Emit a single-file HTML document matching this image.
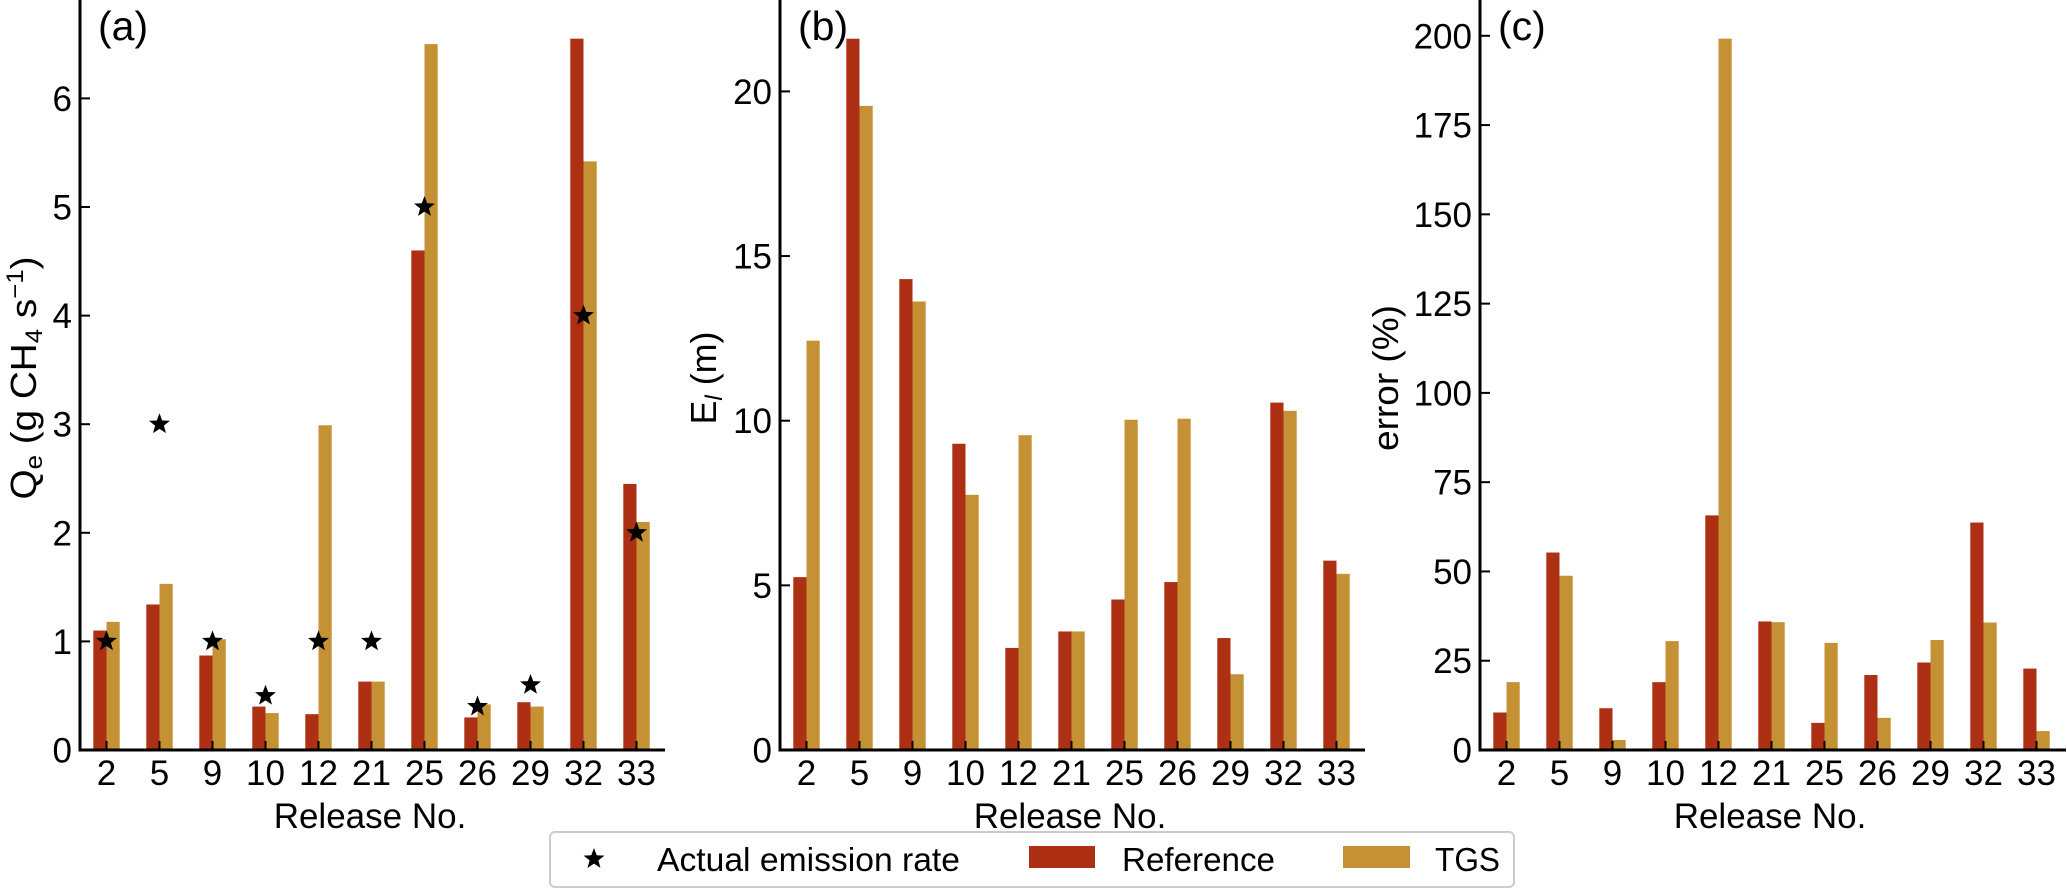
<!DOCTYPE html>
<html><head><meta charset="utf-8"><style>
html,body{margin:0;padding:0;background:#fff;}
svg{display:block;font-family:"Liberation Sans",Arial,sans-serif;}
</style></head><body>
<svg id="fig" width="2067" height="890" viewBox="0 0 2067 890" xmlns="http://www.w3.org/2000/svg"></svg>
<script>
const categories = ["2","5","9","10","12","21","25","26","29","32","33"];
const qeReference = [1.1,1.34,0.87,0.4,0.33,0.63,4.6,0.3,0.44,6.55,2.45];
const qeTGS = [1.18,1.53,1.02,0.34,2.99,0.63,6.5,0.42,0.4,5.42,2.1];
const qeActual = [1,3,1,0.5,1,1,5,0.4,0.6,4,2];
const elReference = [5.25,21.6,14.3,9.3,3.1,3.6,4.57,5.1,3.4,10.55,5.75];
const elTGS = [12.43,19.56,13.62,7.75,9.56,3.6,10.03,10.06,2.3,10.3,5.35];
const errReference = [10.5,55.3,11.7,19,65.7,36,7.6,21,24.5,63.7,22.8];
const errTGS = [19,48.8,2.8,30.5,199.2,35.8,30,9,30.8,35.7,5.3];
const qeTicks = [0,1,2,3,4,5,6];
const elTicks = [0,5,10,15,20];
const errTicks = [0,25,50,75,100,125,150,175,200];

const NS="http://www.w3.org/2000/svg";
const svg=document.getElementById('fig');
const RED="#AD3014", GOLD="#C49234";
function mk(tag,attrs,parent){const e=document.createElementNS(NS,tag);for(const k in attrs)e.setAttribute(k,attrs[k]);(parent||svg).appendChild(e);return e;}
function starPath(cx,cy,r){let d="";for(let i=0;i<10;i++){const rr=i%2?r*0.42:r;const a=-Math.PI/2+i*Math.PI/5;d+=(i?"L":"M")+(cx+rr*Math.cos(a)).toFixed(2)+","+(cy+rr*Math.sin(a)).toFixed(2);}return d+"Z";}

const Y0=750;
function panel(cfg){
  const g=mk('g',{});
  
  
  const ax=cfg.ax, scale=cfg.pxPerUnit;
  const y=v=>Y0-v*scale;
  const xc=i=>ax+26.5+53*i;
  const bw=13.2;
  cfg.ref.forEach((v,i)=>{
    const r=mk('rect',{x:xc(i)-bw,y:y(v),width:bw,height:Y0-y(v),fill:RED},g);
    
    
  });
  cfg.tgs.forEach((v,i)=>{
    const r=mk('rect',{x:xc(i),y:y(v),width:bw,height:Y0-y(v),fill:GOLD},g);
    
    
  });
  if(cfg.stars){cfg.stars.forEach((v,i)=>{
    const s=mk('path',{d:starPath(xc(i),y(v),11),fill:"#000"},g);
    
    
  });}
  const ls=mk('line',{x1:ax,y1:0,x2:ax,y2:Y0+1.5,stroke:"#000","stroke-width":3},g);
  
  
  const bs=mk('line',{x1:ax-1.5,y1:Y0,x2:ax+cfg.spineLen,y2:Y0,stroke:"#000","stroke-width":3},g);
  
  
  cfg.ticks.forEach(t=>{
    mk('line',{x1:ax,y1:y(t),x2:ax+10,y2:y(t),stroke:"#000","stroke-width":2},g);
    const tx=mk('text',{x:ax-8,y:y(t)+12.5,"text-anchor":"end","font-size":35},g);
    tx.textContent=t;
    
    
  });
  categories.forEach((c,i)=>{
    mk('line',{x1:xc(i),y1:Y0,x2:xc(i),y2:Y0-9,stroke:"#000","stroke-width":2},g);
    const tx=mk('text',{x:xc(i),y:785,"text-anchor":"middle","font-size":35},g);
    tx.textContent=c;
    
    
  });
  const xl=mk('text',{x:ax+290,y:828,"text-anchor":"middle","font-size":35},g);
  xl.textContent="Release No.";
  
  
  const pl=mk('text',{x:ax+18,y:40,"font-size":41},g);
  pl.textContent=cfg.label;
  
  
  const yl=mk('text',{x:0,y:0,"text-anchor":"middle","font-size":36,textLength:cfg.ylen,lengthAdjust:"spacingAndGlyphs",transform:`translate(${cfg.ylx},378) rotate(-90)`},g);
  yl.innerHTML=cfg.ytitle;
  
  
}
panel({name:'panel-a-emission-rate',ax:80,pxPerUnit:108.6,ref:qeReference,tgs:qeTGS,stars:qeActual,ticks:qeTicks,spineLen:585,label:"(a)",ylx:36,ylen:243,
  ytitle:'Q<tspan font-size="24" dy="6">e</tspan><tspan dy="-6"> (g CH</tspan><tspan font-size="24" dy="6">4</tspan><tspan dy="-6"> s</tspan><tspan font-size="24" dy="-13">−1</tspan><tspan dy="13">)</tspan>'});
panel({name:'panel-b-el',ax:780,pxPerUnit:32.93,ref:elReference,tgs:elTGS,ticks:elTicks,spineLen:585,label:"(b)",ylx:716,ylen:93,
  ytitle:'E<tspan font-size="24" dy="6" font-style="italic">l</tspan><tspan dy="-6"> (m)</tspan>'});
panel({name:'panel-c-error',ax:1480,pxPerUnit:3.571,ref:errReference,tgs:errTGS,ticks:errTicks,spineLen:586,label:"(c)",ylx:1398,ylen:146,
  ytitle:'error (%)'});

const lg=mk('g',{});


mk('rect',{x:550,y:832,width:964,height:55,rx:5,fill:"#fff",stroke:"#ccc","stroke-width":2},lg);
const e1=mk('path',{d:starPath(594,859,11),fill:"#000"},lg);


const t1=mk('text',{x:657,y:871,"font-size":33,textLength:303,lengthAdjust:"spacingAndGlyphs"},lg);t1.textContent="Actual emission rate";


const p2=mk('rect',{x:1029,y:846,width:66,height:22,fill:RED},lg);


const t2=mk('text',{x:1122,y:871,"font-size":33,textLength:153,lengthAdjust:"spacingAndGlyphs"},lg);t2.textContent="Reference";


const p3=mk('rect',{x:1343,y:846,width:67,height:22,fill:GOLD},lg);


const t3=mk('text',{x:1435,y:871,"font-size":33,textLength:65,lengthAdjust:"spacingAndGlyphs"},lg);t3.textContent="TGS";


</script>
</body></html>
